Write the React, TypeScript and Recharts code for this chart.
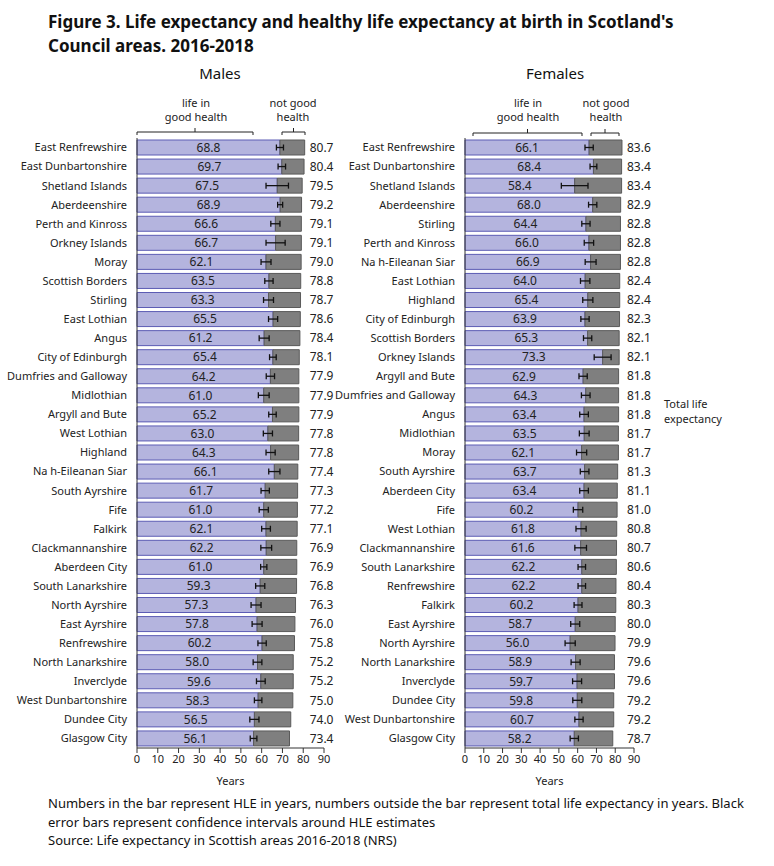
import { BarChart, Bar, XAxis, YAxis, ErrorBar, LabelList } from "recharts";

const maleAreas = [
  "East Renfrewshire", "East Dunbartonshire", "Shetland Islands", "Aberdeenshire",
  "Perth and Kinross", "Orkney Islands", "Moray", "Scottish Borders", "Stirling",
  "East Lothian", "Angus", "City of Edinburgh", "Dumfries and Galloway", "Midlothian",
  "Argyll and Bute", "West Lothian", "Highland", "Na h-Eileanan Siar", "South Ayrshire",
  "Fife", "Falkirk", "Clackmannanshire", "Aberdeen City", "South Lanarkshire",
  "North Ayrshire", "East Ayrshire", "Renfrewshire", "North Lanarkshire", "Inverclyde",
  "West Dunbartonshire", "Dundee City", "Glasgow City",
];
const maleHle = [
  68.8, 69.7, 67.5, 68.9, 66.6, 66.7, 62.1, 63.5, 63.3, 65.5, 61.2, 65.4, 64.2, 61.0, 65.2, 63.0,
  64.3, 66.1, 61.7, 61.0, 62.1, 62.2, 61.0, 59.3, 57.3, 57.8, 60.2, 58.0, 59.6, 58.3, 56.5, 56.1,
];
const maleTotal = [
  80.7, 80.4, 79.5, 79.2, 79.1, 79.1, 79.0, 78.8, 78.7, 78.6, 78.4, 78.1, 77.9, 77.9, 77.9, 77.8,
  77.8, 77.4, 77.3, 77.2, 77.1, 76.9, 76.9, 76.8, 76.3, 76.0, 75.8, 75.2, 75.2, 75.0, 74.0, 73.4,
];
const maleCi = [
  1.7, 1.8, 5.4, 1.2, 2.2, 4.6, 2.4, 2.0, 2.4, 2.2, 2.4, 1.6, 2.0, 2.6, 1.8, 2.2,
  2.2, 2.7, 2.0, 2.2, 2.1, 2.6, 1.5, 2.2, 2.4, 2.4, 2.0, 2.1, 2.1, 1.8, 2.2, 1.6,
];

const femaleAreas = [
  "East Renfrewshire", "East Dunbartonshire", "Shetland Islands", "Aberdeenshire", "Stirling",
  "Perth and Kinross", "Na h-Eileanan Siar", "East Lothian", "Highland", "City of Edinburgh",
  "Scottish Borders", "Orkney Islands", "Argyll and Bute", "Dumfries and Galloway", "Angus",
  "Midlothian", "Moray", "South Ayrshire", "Aberdeen City", "Fife", "West Lothian",
  "Clackmannanshire", "South Lanarkshire", "Renfrewshire", "Falkirk", "East Ayrshire",
  "North Ayrshire", "North Lanarkshire", "Inverclyde", "Dundee City", "West Dunbartonshire",
  "Glasgow City",
];
const femaleHle = [
  66.1, 68.4, 58.4, 68.0, 64.4, 66.0, 66.9, 64.0, 65.4, 63.9, 65.3, 73.3, 62.9, 64.3, 63.4, 63.5,
  62.1, 63.7, 63.4, 60.2, 61.8, 61.6, 62.2, 62.2, 60.2, 58.7, 56.0, 58.9, 59.7, 59.8, 60.7, 58.2,
];
const femaleTotal = [
  83.6, 83.4, 83.4, 82.9, 82.8, 82.8, 82.8, 82.4, 82.4, 82.3, 82.1, 82.1, 81.8, 81.8, 81.8, 81.7,
  81.7, 81.3, 81.1, 81.0, 80.8, 80.7, 80.6, 80.4, 80.3, 80.0, 79.9, 79.6, 79.6, 79.2, 79.2, 78.7,
];
const femaleCi = [
  2.2, 1.8, 7.1, 2.2, 2.2, 2.5, 2.9, 2.5, 2.7, 2.2, 2.2, 4.5, 2.2, 2.3, 2.3, 2.6,
  2.7, 2.3, 2.3, 2.5, 2.7, 3.1, 2.0, 2.0, 2.1, 2.4, 2.7, 2.4, 2.4, 2.4, 2.2, 2.2,
];

const xTicks = [0, 10, 20, 30, 40, 50, 60, 70, 80, 90];

const FONT = "'Noto Sans', 'Open Sans', sans-serif";
const TOP = 130;
const MARGIN_TOP = 8;
const PLOT_H = 610;
const XAXIS_H = 42;

type Row = { area: string; hle: number; rest: number; total: number; ci: number };

function buildRows(areas: string[], hle: number[], total: number[], ci: number[]): Row[] {
  return areas.map((area, i) => ({
    area,
    hle: hle[i],
    rest: +(total[i] - hle[i]).toFixed(1),
    total: total[i],
    ci: ci[i],
  }));
}

const maleRows = buildRows(maleAreas, maleHle, maleTotal, maleCi);
const femaleRows = buildRows(femaleAreas, femaleHle, femaleTotal, femaleCi);

// plain text tick so long council names never wrap
const AreaTick = (props: any) => {
  const { x, y, payload } = props;
  return (
    <text
      x={Number(x)}
      y={Number(y)}
      dy="0.35em"
      textAnchor="end"
      fontSize={11}
      fill="#222"
      fontFamily={FONT}
    >
      {payload.value}
    </text>
  );
};

type PanelProps = {
  rows: Row[];
  left: number;
  yWidth: number;
  plotW: number;
  rightPad: number;
};

function Panel({ rows, left, yWidth, plotW, rightPad }: PanelProps) {
  const maxTotal = Math.max(...rows.map((r) => r.total));
  // total LE label sits in a column just right of the longest bar
  const totalLabel = (props: any) => {
    const { x, y, width, height, index } = props;
    const r = rows[index];
    const k = Number(width) / r.rest;
    const x0 = Number(x) - r.hle * k;
    return (
      <text
        x={x0 + maxTotal * k + 5}
        y={Number(y) + Number(height) / 2}
        dy="0.35em"
        fontSize={12}
        fill="#222"
        fontFamily={FONT}
      >
        {r.total.toFixed(1)}
      </text>
    );
  };

  return (
    <div style={{ position: "absolute", left, top: TOP }}>
      <BarChart
        width={yWidth + plotW + rightPad}
        height={MARGIN_TOP + PLOT_H + XAXIS_H}
        data={rows}
        layout="vertical"
        margin={{ top: MARGIN_TOP, right: rightPad, bottom: 0, left: 0 }}
        barSize={15}
      >
        <XAxis
          type="number"
          domain={[0, 90]}
          ticks={xTicks}
          height={XAXIS_H}
          tick={{ fontSize: 11, fill: "#222", fontFamily: FONT }}
          tickSize={5}
          axisLine={{ stroke: "#333" }}
          tickLine={{ stroke: "#333" }}
          label={{
            value: "Years",
            position: "insideBottom",
            offset: 5,
            fontSize: 11,
            fill: "#222",
            fontFamily: FONT,
          }}
        />
        <YAxis
          type="category"
          dataKey="area"
          width={yWidth}
          interval={0}
          tickLine={false}
          tickMargin={4}
          axisLine={{ stroke: "#333" }}
          tick={<AreaTick />}
        />
        <Bar
          dataKey="hle"
          stackId="a"
          fill="#b4b4de"
          stroke="#5c5cb4"
          strokeWidth={1}
          isAnimationActive={false}
        >
          <LabelList
            dataKey="hle"
            position="center"
            fontSize={12}
            fill="#222"
            fontFamily={FONT}
            formatter={(v: any) => Number(v).toFixed(1)}
          />
          <ErrorBar dataKey="ci" direction="x" width={3} stroke="#111" strokeWidth={1.3} />
        </Bar>
        <Bar
          dataKey="rest"
          stackId="a"
          fill="#7f7f7f"
          stroke="#5a5a5a"
          strokeWidth={1}
          isAnimationActive={false}
        >
          <LabelList dataKey="total" content={totalLabel} />
        </Bar>
      </BarChart>
    </div>
  );
}

type BracketProps = { x1: number; x2: number; y: number };

function Bracket({ x1, x2, y }: BracketProps) {
  const mid = (x1 + x2) / 2;
  return (
    <path
      d={`M${x1},${y + 3} L${x1},${y} L${x2},${y} L${x2},${y + 3} M${mid},${y} L${mid},${y - 4}`}
      stroke="#222"
      strokeWidth={1}
      fill="none"
    />
  );
}

const smallText = { fontSize: 11, fill: "#222", fontFamily: FONT, textAnchor: "middle" as const };

export default function App() {
  return (
    <div
      style={{
        position: "absolute",
        left: 0,
        top: 0,
        width: 774,
        height: 866,
        background: "#fff",
        fontFamily: FONT,
        color: "#111",
      }}
    >
      <div
        style={{
          position: "absolute",
          left: 48,
          top: 10,
          fontSize: 17,
          fontWeight: 700,
          lineHeight: "24px",
          whiteSpace: "nowrap",
        }}
      >
        Figure 3. Life expectancy and healthy life expectancy at birth in Scotland's
        <br />
        Council areas. 2016-2018
      </div>

      <Panel rows={maleRows} left={0} yWidth={137} plotW={187} rightPad={20} />
      <Panel rows={femaleRows} left={330} yWidth={135} plotW={169} rightPad={24} />

      <svg
        width={774}
        height={140}
        style={{ position: "absolute", left: 0, top: 0, pointerEvents: "none" }}
      >
        <text x={220} y={79} fontSize={15} fill="#111" fontFamily={FONT} textAnchor="middle">
          Males
        </text>
        <text x={555} y={79} fontSize={15} fill="#111" fontFamily={FONT} textAnchor="middle">
          Females
        </text>

        <text x={196} y={107} {...smallText}>life in</text>
        <text x={196} y={121} {...smallText}>good health</text>
        <text x={293} y={107} {...smallText}>not good</text>
        <text x={293} y={121} {...smallText}>health</text>
        <Bracket x1={137} x2={253} y={132} />
        <Bracket x1={282} x2={305} y={132} />

        <text x={528} y={107} {...smallText}>life in</text>
        <text x={528} y={121} {...smallText}>good health</text>
        <text x={606} y={107} {...smallText}>not good</text>
        <text x={606} y={121} {...smallText}>health</text>
        <Bracket x1={473} x2={582} y={133} />
        <Bracket x1={591} x2={619} y={133} />
      </svg>

      <div
        style={{
          position: "absolute",
          left: 664,
          top: 396,
          fontSize: 11,
          lineHeight: "15px",
          color: "#222",
        }}
      >
        Total life
        <br />
        expectancy
      </div>

      <div
        style={{
          position: "absolute",
          left: 48,
          top: 794,
          fontSize: 13,
          lineHeight: "18.5px",
          color: "#111",
          whiteSpace: "nowrap",
        }}
      >
        Numbers in the bar represent HLE in years, numbers outside the bar represent total life expectancy in years. Black
        <br />
        error bars represent confidence intervals around HLE estimates
        <br />
        Source: Life expectancy in Scottish areas 2016-2018 (NRS)
      </div>
    </div>
  );
}
